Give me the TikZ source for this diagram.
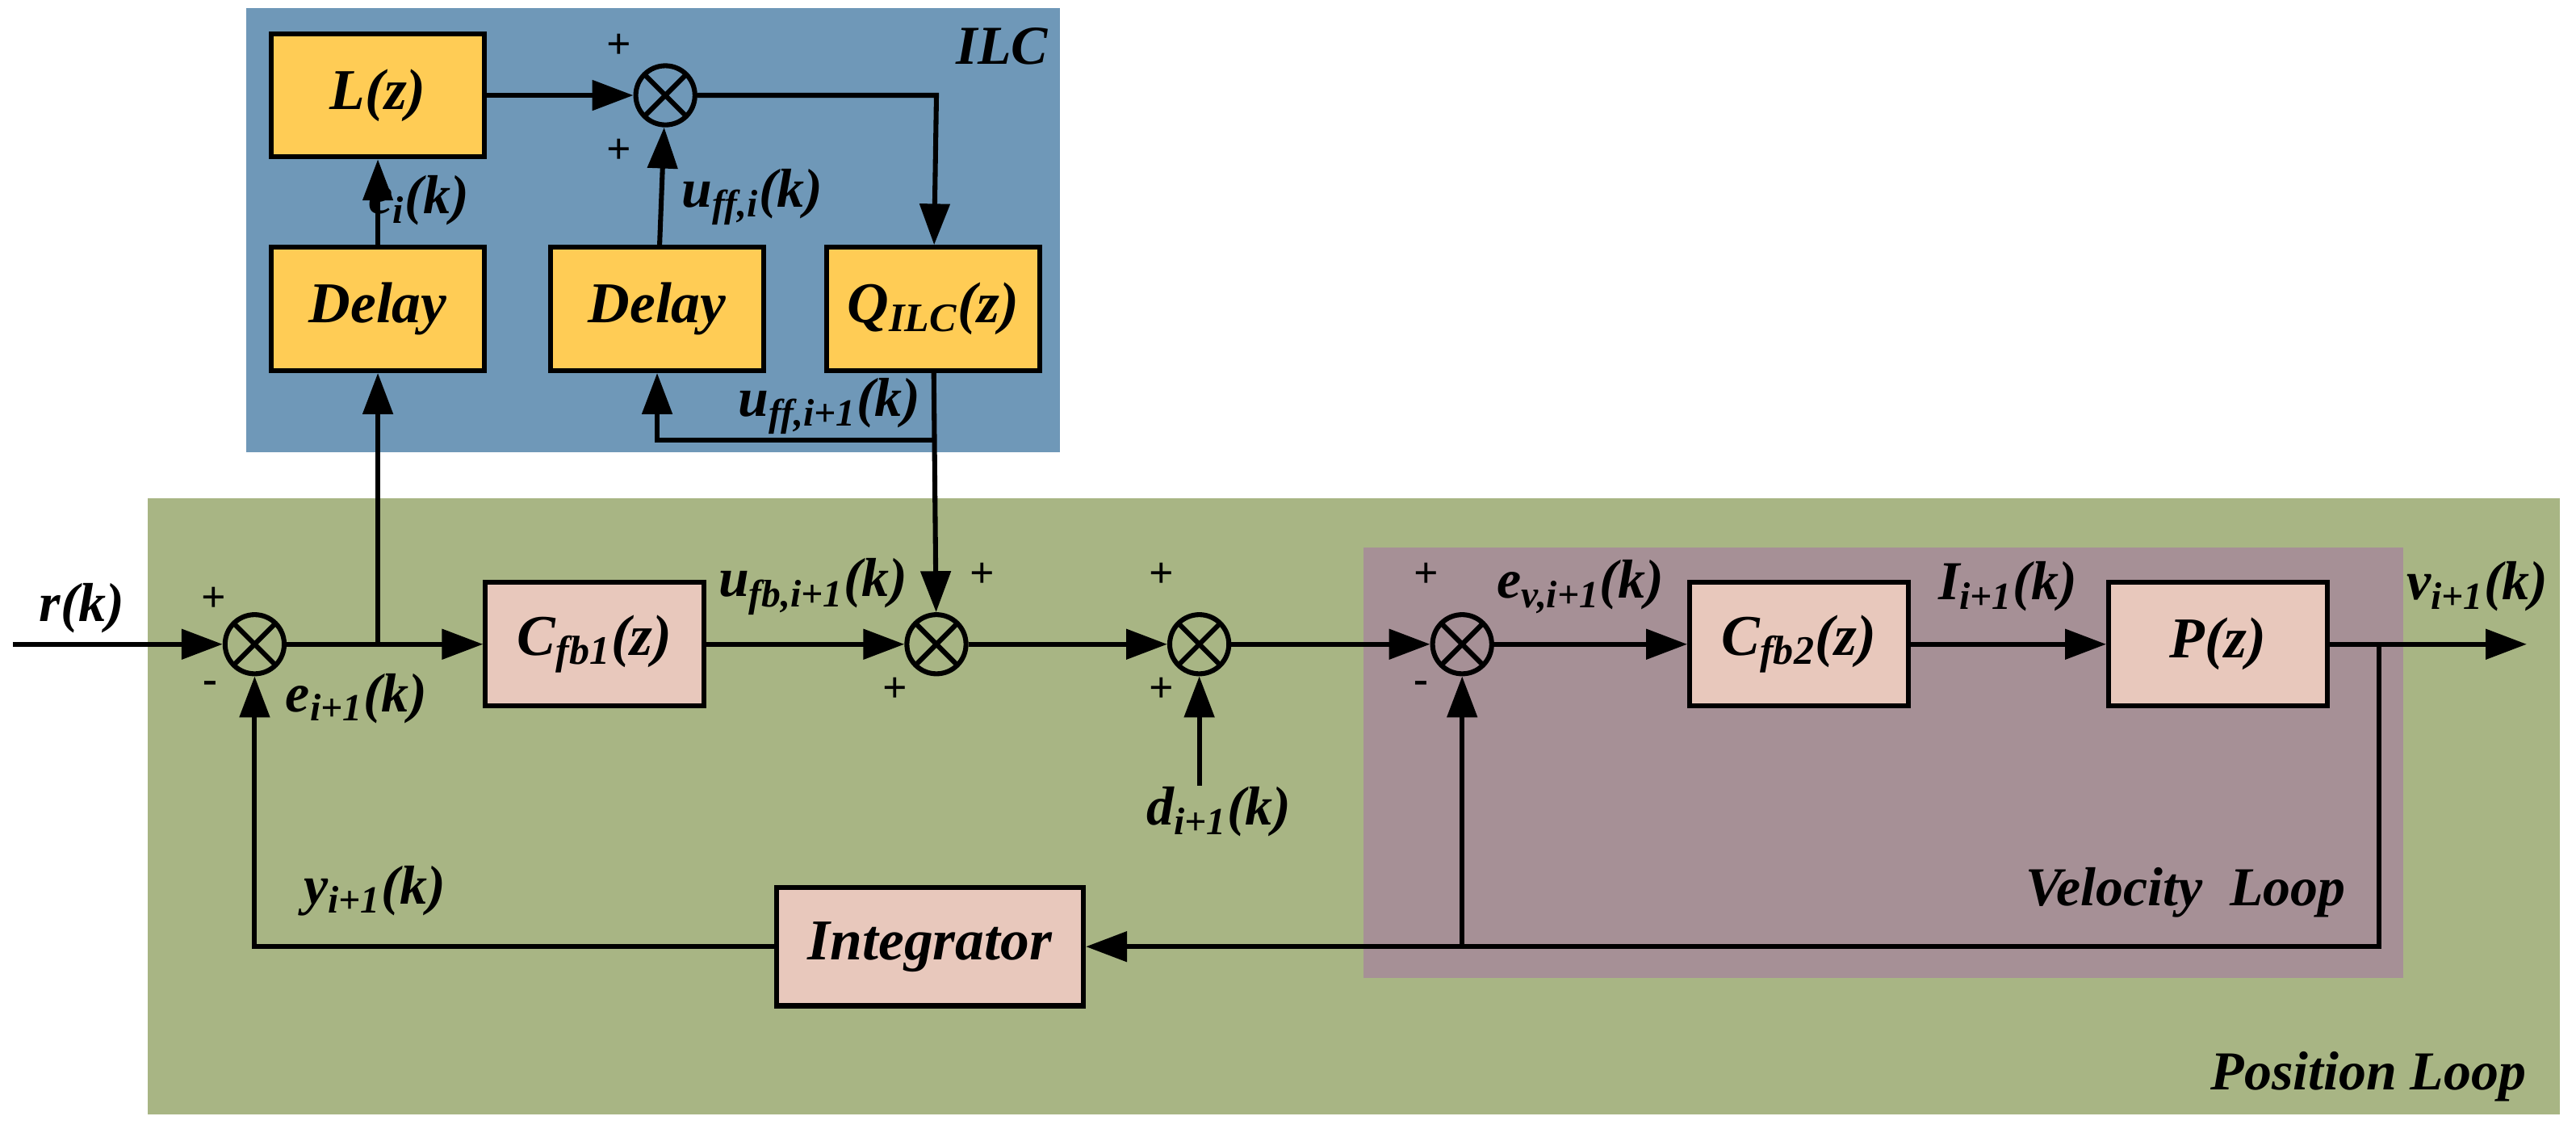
\documentclass[tikz,border=0pt]{standalone}
\usepackage{fontspec}
\setmainfont{Liberation Serif}
\usetikzlibrary{arrows.meta}
\definecolor{ilcbg}{HTML}{6F98B8}
\definecolor{posbg}{HTML}{A8B584}
\definecolor{velbg}{HTML}{A69096}
\definecolor{yel}{HTML}{FFCC55}
\definecolor{pink}{HTML}{E8C8BC}
\begin{document}
\begin{tikzpicture}[x={(0.02cm,0)},y={(0,-0.02cm)},
  line width=1.7pt,
  arr/.style={-{Triangle[length=0.5cm,width=0.36cm]}},
  lbl/.style={font=\fontsize{19}{22}\selectfont\bfseries\itshape},
  sgn/.style={font=\fontsize{15}{17}\selectfont\bfseries},
  yb/.style={draw,fill=yel,minimum width=2.6cm,minimum height=1.5cm,font=\fontsize{20}{24}\selectfont\bfseries\itshape},
  pb/.style={draw,fill=pink,minimum width=2.66cm,minimum height=1.5cm,font=\fontsize{20}{24}\selectfont\bfseries\itshape},
  sum/.style={draw,circle,minimum size=0.72cm,inner sep=0pt,
    path picture={\draw[line width=1.7pt] (path picture bounding box.north west)--(path picture bounding box.south east) (path picture bounding box.north east)--(path picture bounding box.south west);}}]
\useasboundingbox (0,0) rectangle (1568,689);
\fill[ilcbg] (150,5) rectangle (645,275);
\fill[posbg] (90,303) rectangle (1558,678);
\fill[velbg] (830,333) rectangle (1463,595);
\node[lbl] at (610,28) {ILC};
\node[lbl,anchor=east] at (1545,655) {Position Loop};
\node[lbl,anchor=east] at (1435,543) {Velocity\ \ Loop};
\node[yb] (L) at (230,58) {L(z)};
\node[yb] (D1) at (230,188) {Delay};
\node[yb] (D2) at (400,188) {Delay};
\node[yb] (Q) at (568,188) {Q\textsubscript{ILC}(z)};
\node[sum] (s0) at (405,58) {};
\node[sum] (s1) at (155,392) {};
\node[sum] (s2) at (570,392) {};
\node[sum] (s3) at (730,392) {};
\node[sum] (s4) at (890,392) {};
\node[pb] (C1) at (362,392) {C\textsubscript{fb1}(z)};
\node[pb] (C2) at (1095,392) {C\textsubscript{fb2}(z)};
\node[pb] (P) at (1350,392) {P(z)};
\node[pb,minimum width=3.74cm,minimum height=1.44cm] (I) at (566,576) {Integrator};
\coordinate (rin) at (8,392);
\coordinate (vout) at (1538,392);
\coordinate (din) at (730,478);
\coordinate (b1) at (230,392);
\coordinate (bq) at (570,268);
\coordinate (bq2) at (400,268);
\coordinate (bp) at (1448,392);
\coordinate (bp2) at (1448,576);
\coordinate (bv) at (890,576);
\coordinate (bi) at (155,576);
\coordinate (qtop) at (570,58);
\draw[arr] (L) -- (s0);
\draw[arr] (s0) -- (qtop) -- (Q);
\draw[arr] (D1) -- (L);
\draw[arr] (D2) -- (s0);
\draw[arr] (Q) -- (s2);
\draw[arr] (bq) -- (bq2) -- (D2);
\draw[arr] (rin) -- (s1);
\draw[arr] (s1) -- (C1);
\draw[arr] (b1) -- (D1);
\draw[arr] (C1) -- (s2);
\draw[arr] (s2) -- (s3);
\draw[arr] (din) -- (s3);
\draw[arr] (s3) -- (s4);
\draw[arr] (s4) -- (C2);
\draw[arr] (C2) -- (P);
\draw[arr] (P) -- (vout);
\draw[arr] (bp) -- (bp2) -- (I);
\draw[arr] (bv) -- (s4);
\draw[arr] (I) -- (bi) -- (s1);
\node[sgn] at (377,28) {+};
\node[sgn] at (377,92) {+};
\node[sgn] at (130,365) {+};
\node[sgn] at (128,418) {-};
\node[sgn] at (598,350) {+};
\node[sgn] at (545,420) {+};
\node[sgn] at (707,350) {+};
\node[sgn] at (707,420) {+};
\node[sgn] at (868,350) {+};
\node[sgn] at (865,418) {-};
\node[lbl] at (50,370) {r(k)};
\node[lbl] at (255,122) {e\textsubscript{i}(k)};
\node[lbl] at (458,120) {u\textsubscript{ff,i}(k)};
\node[lbl] at (505,247) {u\textsubscript{ff,i+1}(k)};
\node[lbl] at (217,425) {e\textsubscript{i+1}(k)};
\node[lbl] at (495,357) {u\textsubscript{fb,i+1}(k)};
\node[lbl] at (742,494) {d\textsubscript{i+1}(k)};
\node[lbl] at (962,357) {e\textsubscript{v,i+1}(k)};
\node[lbl] at (1222,357) {I\textsubscript{i+1}(k)};
\node[lbl] at (1508,357) {v\textsubscript{i+1}(k)};
\node[lbl] at (228,542) {y\textsubscript{i+1}(k)};
\end{tikzpicture}
\end{document}
